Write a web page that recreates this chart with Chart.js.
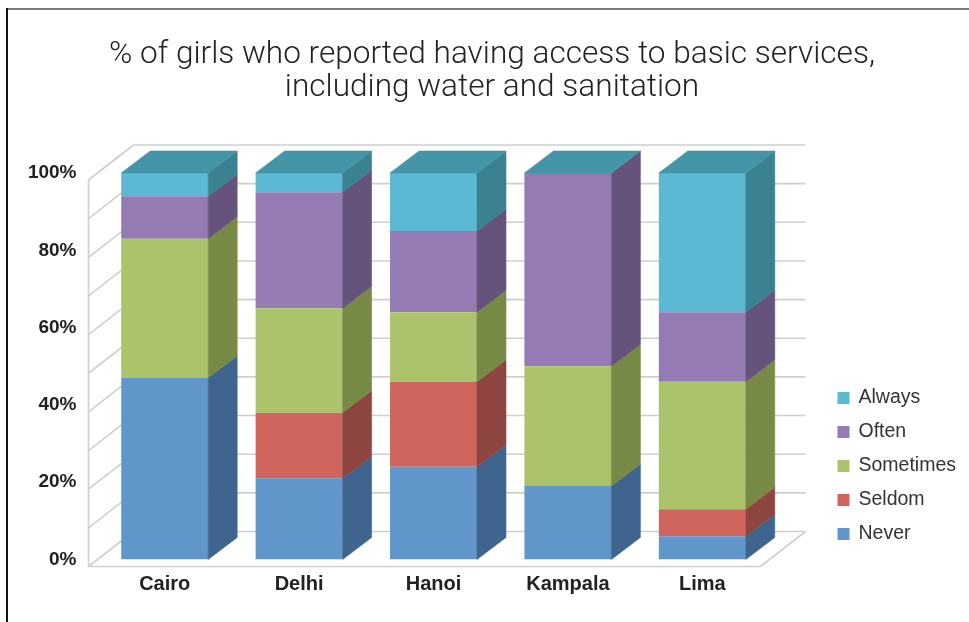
<!DOCTYPE html>
<html>
<head>
<meta charset="utf-8">
<script src="https://cdn.jsdelivr.net/npm/chart.js@4.4.1/dist/chart.umd.min.js"></script>
<style>
  html, body { margin: 0; padding: 0; background: #fff; }
  #wrap { width: 969px; height: 622px; position: relative; }
  canvas { display: block; background: #fff; }
</style>
</head>
<body>
<div id="wrap"><canvas id="c" width="969" height="622"></canvas></div>
<script>
// ---- data ----
const titleLines = ['% of girls who reported having access to basic services,', 'including water and sanitation'];
const categories = ['Cairo', 'Delhi', 'Hanoi', 'Kampala', 'Lima'];
const seriesNames = ['Never', 'Seldom', 'Sometimes', 'Often', 'Always'];
const never     = [47, 21, 24, 19, 6];
const seldom    = [0, 17, 22, 0, 7];
const sometimes = [36, 27, 18, 31, 33];
const often     = [11, 30, 21, 50, 18];
const always    = [6, 5, 15, 0, 36];
const yTickValues = [0, 20, 40, 60, 80, 100];
const gridValues  = [0, 10, 20, 30, 40, 50, 60, 70, 80, 90, 100];

// ---- styles ----
const frontColors = ['#6096c9', '#cf655c', '#abc46c', '#947bb3', '#5cb9d3'];
const sideColors  = ['#3f658f', '#8f453f', '#778a46', '#66537c', '#3a8191'];
const topColor = '#4595a8';
const BD = {x: 29, y: -22};   // bar depth
const WF = {x: -9, y: 7};     // wall front offset from bar plane
const WB = {x: 36, y: -28};   // wall back offset from bar plane

function poly(ctx, pts, color) {
  ctx.beginPath();
  ctx.moveTo(pts[0][0], pts[0][1]);
  for (let i = 1; i < pts.length; i++) ctx.lineTo(pts[i][0], pts[i][1]);
  ctx.closePath();
  ctx.fillStyle = color;
  ctx.fill();
  ctx.strokeStyle = color;
  ctx.lineWidth = 0.6;
  ctx.stroke();
}

const depthPlugin = {
  id: 'depth3d',
  beforeDraw(chart) {
    const ctx = chart.ctx;
    ctx.save();
    // frame
    ctx.strokeStyle = '#7a7a7a';
    ctx.lineWidth = 2;
    ctx.beginPath(); ctx.moveTo(6, 9); ctx.lineTo(969, 9); ctx.stroke();
    ctx.strokeStyle = '#111';
    ctx.beginPath(); ctx.moveTo(7, 8); ctx.lineTo(7, 622); ctx.stroke();
    // title
    ctx.fillStyle = '#222';
    ctx.font = '300 29px Roboto';
    const w = ctx.measureText(titleLines[0]).width;
    const size = 29 * 766 / w;
    ctx.font = '300 ' + size.toFixed(2) + 'px Roboto';
    ctx.textAlign = 'center';
    ctx.textBaseline = 'alphabetic';
    titleLines.forEach((t, i) => ctx.fillText(t, 492, 63 + i * 33));
    ctx.restore();
  },
  beforeDatasetsDraw(chart) {
    const ctx = chart.ctx, a = chart.chartArea, ys = chart.scales.y;
    ctx.save();
    ctx.strokeStyle = '#cfcfcf';
    ctx.lineWidth = 1.6;
    const line = (x1, y1, x2, y2) => { ctx.beginPath(); ctx.moveTo(x1, y1); ctx.lineTo(x2, y2); ctx.stroke(); };
    gridValues.forEach(v => {
      const y = ys.getPixelForValue(v);
      line(a.left + WB.x, y + WB.y, a.right + WB.x, y + WB.y);
      line(a.left + WF.x, y + WF.y, a.left + WB.x, y + WB.y);
    });
    const y0 = ys.getPixelForValue(0), y1 = ys.getPixelForValue(100);
    line(a.left + WF.x, y1 + WF.y, a.left + WF.x, y0 + WF.y);
    line(a.left + WF.x, y0 + WF.y, a.right + WF.x, y0 + WF.y);
    line(a.right + WF.x, y0 + WF.y, a.right + WB.x, y0 + WB.y);
    ctx.restore();
  },
  afterDatasetsDraw(chart) {
    const ctx = chart.ctx;
    ctx.save();
    const n = chart.data.datasets.length;
    for (let di = 0; di < n; di++) {
      const meta = chart.getDatasetMeta(di);
      meta.data.forEach(el => {
        const p = el.getProps(['x', 'y', 'base', 'width'], true);
        const xr = p.x + p.width / 2;
        const top = Math.min(p.y, p.base), bot = Math.max(p.y, p.base);
        if (bot - top < 0.05) return;
        poly(ctx, [[xr, top], [xr + BD.x, top + BD.y], [xr + BD.x, bot + BD.y], [xr, bot]], sideColors[di]);
      });
    }
    const lastMeta = chart.getDatasetMeta(n - 1);
    lastMeta.data.forEach(el => {
      const p = el.getProps(['x', 'y', 'base', 'width'], true);
      const xl = p.x - p.width / 2, xr = p.x + p.width / 2, top = Math.min(p.y, p.base);
      poly(ctx, [[xl, top], [xr, top], [xr + BD.x, top + BD.y], [xl + BD.x, top + BD.y]], topColor);
    });
    ctx.restore();
  },
  afterDraw(chart) {
    const ctx = chart.ctx, a = chart.chartArea;
    ctx.save();
    ctx.font = '19.5px "Liberation Sans", Arial, sans-serif';
    ctx.textAlign = 'left';
    ctx.textBaseline = 'middle';
    const n = chart.data.datasets.length;
    for (let k = 0; k < n; k++) {
      const di = n - 1 - k;
      const y = 398 + k * 34;
      ctx.fillStyle = frontColors[di];
      ctx.fillRect(a.right + 68, y - 6, 12, 12);
      ctx.fillStyle = '#333';
      ctx.fillText(chart.data.datasets[di].label, a.right + 89, y);
    }
    ctx.restore();
  }
};

const seriesValues = [never, seldom, sometimes, often, always];
const datasets = seriesNames.map((name, i) => ({
  label: name,
  data: seriesValues[i],
  backgroundColor: frontColors[i],
  borderWidth: 0,
  barPercentage: 0.647,
  categoryPercentage: 1.0
}));

const yFont = {family: '"Liberation Sans", Arial, sans-serif', weight: 'bold', size: 19};
const xFont = {family: '"Liberation Sans", Arial, sans-serif', weight: 'bold', size: 20};

new Chart(document.getElementById('c'), {
  type: 'bar',
  data: {labels: categories, datasets},
  options: {
    responsive: false,
    animation: false,
    layout: {padding: {top: 173, right: 199.5, bottom: 22.5, left: 0}},
    plugins: {legend: {display: false}, title: {display: false}, tooltip: {enabled: false}},
    scales: {
      x: {
        stacked: true,
        grid: {display: false, drawTicks: false},
        border: {display: false},
        ticks: {font: xFont, color: '#222', padding: 13},
        afterFit(s) { s.height = 40; }
      },
      y: {
        stacked: true,
        min: 0, max: 100,
        grid: {display: false, drawTicks: false},
        border: {display: false},
        afterBuildTicks(s) { s.ticks = yTickValues.map(v => ({value: v})); },
        ticks: {font: yFont, color: '#222', padding: 21, callback: v => v + '%'},
        afterFit(s) { s.width = 97.5; }
      }
    }
  },
  plugins: [depthPlugin]
});
</script>
</body>
</html>
